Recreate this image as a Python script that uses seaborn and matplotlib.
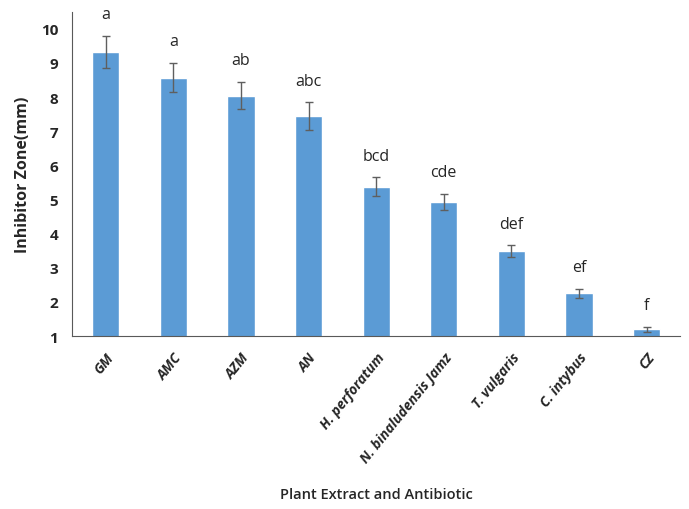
import matplotlib
matplotlib.use("Agg")
import matplotlib.pyplot as plt
import seaborn as sns
import pandas as pd

treatments = ["GM", "AMC", "AZM", "AN", "H. perforatum", "N. binaludensis Jamz",
              "T. vulgaris", "C. intybus", "CZ"]
zone_mm = [9.33, 8.57, 8.04, 7.45, 5.37, 4.93, 3.49, 2.26, 1.20]
zone_err = [0.47, 0.43, 0.40, 0.40, 0.28, 0.23, 0.17, 0.13, 0.08]
groups = ["a", "a", "ab", "abc", "bcd", "cde", "def", "ef", "f"]

sns.set_style("white")
plt.rcParams["font.family"] = ["Open Sans", "DejaVu Sans"]

df = pd.DataFrame({"treatment": treatments, "zone": zone_mm})

fig = plt.figure(figsize=(6.89, 5.10), dpi=100)
ax = fig.add_axes([0.1045, 0.339, 0.883, 0.636])

sns.barplot(data=df, x="treatment", y="zone", color="#5B9BD5", saturation=1,
            width=0.4, ax=ax)
ax.errorbar(range(len(treatments)), zone_mm, yerr=zone_err, fmt="none",
            ecolor="#5f5f5f", elinewidth=1, capsize=3, capthick=1)

# significance letters above each error bar
for i, (v, e, g) in enumerate(zip(zone_mm, zone_err, groups)):
    ax.text(i, v + e + 0.4, g, ha="center", va="bottom", fontsize=11.5)

ax.set_ylim(1, 10.5)
ax.set_xlim(-0.5, 8.5)
ax.set_yticks(range(1, 11))
ax.tick_params(axis="y", length=0, labelsize=11, pad=10)
ax.tick_params(axis="x", length=0, pad=10)
for lab in ax.get_yticklabels():
    lab.set_fontweight("bold")
ax.set_xticks(range(len(treatments)))
ax.set_xticklabels(treatments, rotation=51, ha="right", rotation_mode="anchor",
                   fontstyle="italic", fontweight="bold", fontsize=10)

ax.set_ylabel("Inhibitor Zone(mm)", fontweight="bold", fontsize=11.5, labelpad=7)
ax.set_xlabel("Plant Extract and Antibiotic", fontweight="semibold", fontsize=10.5,
              labelpad=16)

sns.despine(ax=ax, top=True, right=True)
ax.spines["left"].set_color("#595959")
ax.spines["bottom"].set_color("#595959")
ax.spines["left"].set_linewidth(0.8)
ax.spines["bottom"].set_linewidth(0.8)

fig.savefig("out.png", dpi=100)
